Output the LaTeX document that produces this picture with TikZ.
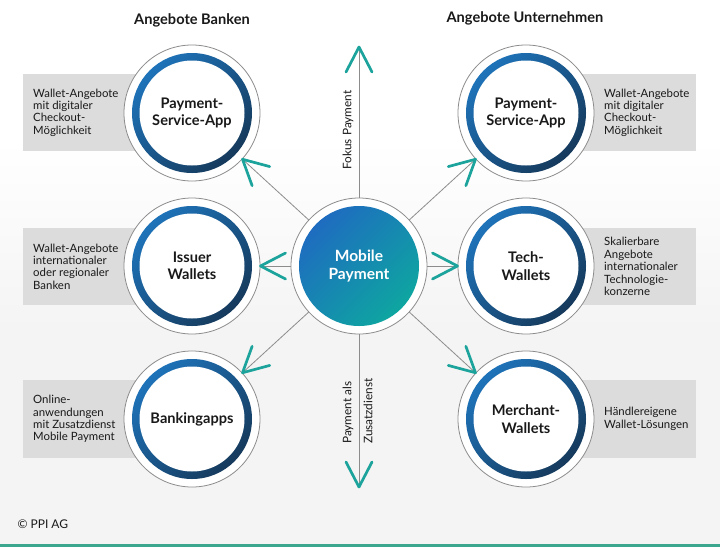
\documentclass[tikz,border=0pt]{standalone}
\usepackage{fontspec}
\setmainfont{Lato}
\usetikzlibrary{calc}
\definecolor{teal1}{RGB}{27,163,156}
\definecolor{lineg}{RGB}{140,140,140}
\definecolor{boxg}{RGB}{220,220,220}
\definecolor{ringA}{RGB}{30,115,185}
\definecolor{ringB}{RGB}{22,58,92}
\definecolor{cenA}{RGB}{30,108,192}
\definecolor{cenB}{RGB}{14,166,160}
\definecolor{bgg}{RGB}{244,244,244}
\definecolor{bottomline}{RGB}{60,166,143}
\definecolor{txt}{RGB}{25,25,25}
\newcommand\mychev[2]{\draw[chev] ($(#1)!25pt!(#2)!13pt!90:(#1)$) -- (#1) -- ($(#1)!25pt!(#2)!13pt!-90:(#1)$);}
\begin{document}
\begin{tikzpicture}[x=1pt,y=-1pt,
 outer/.style={circle,draw=lineg,line width=0.8pt,fill=white,minimum size=136pt,inner sep=0pt},
 lbl/.style={font=\bfseries\fontsize{14.6}{17.5}\selectfont,align=center,text=txt},
 desc/.style={font=\fontsize{11.4}{12.4}\selectfont,align=left,anchor=west,inner sep=0pt,text=txt},
 box/.style={fill=boxg},
 conn/.style={draw=lineg,line width=0.8pt},
 chev/.style={draw=teal1,line width=2.7pt,line cap=round,line join=round},
 side/.style={font=\fontsize{11.8}{13}\selectfont,rotate=90,inner sep=0pt,text=txt},
 head/.style={font=\bfseries\fontsize{14.6}{16}\selectfont,text=txt}
]
\useasboundingbox (0,0) rectangle (720,547);
\fill[white] (0,0) rectangle (720,547);
\shade[top color=white,bottom color=bgg] (0,140) rectangle (720,330);
\fill[bgg] (0,330) rectangle (720,547);
\draw[bottomline,line width=2.5pt] (0,545.5) -- (720,545.5);

% boxes
\fill[box] (23,74) rectangle (192,151);
\fill[box] (23,228) rectangle (192,305);
\fill[box] (23,380) rectangle (192,458);
\fill[box] (526,74) rectangle (696,151);
\fill[box] (526,228) rectangle (696,305);
\fill[box] (526,380) rectangle (696,458);

% circles
\node[outer] (L1) at (192,113) {};
\node[outer] (L2) at (192,266) {};
\node[outer] (L3) at (192,419) {};
\node[outer] (R1) at (526,113) {};
\node[outer] (R2) at (526,266) {};
\node[outer] (R3) at (526,419) {};
\node[outer] (C) at (359,266) {};
\foreach \n in {L1,L2,L3,R1,R2,R3}{
  \shade[top color=ringA,bottom color=ringB,shading angle=45] (\n.center) circle[radius=60pt];
  \fill[white] (\n.center) circle[radius=52.5pt];
}
\shade[top color=cenA,bottom color=cenB,shading angle=45] (C.center) circle[radius=60pt];

\node[lbl] (tL1) at (L1.center) {Payment-\\Service-App};
\node[lbl] (tL2) at (L2.center) {Issuer\\Wallets};
\node[lbl] (tL3) at (L3.center) {Bankingapps};
\node[lbl] (tR1) at (R1.center) {Payment-\\Service-App};
\node[lbl] (tR2) at (R2.center) {Tech-\\Wallets};
\node[lbl] (tR3) at (R3.center) {Merchant-\\Wallets};
\node[lbl,text=white,font=\bfseries\fontsize{15.5}{18}\selectfont] (tC) at (C.center) {Mobile\\Payment};

% descriptions
\node[desc] (dL1) at (33,112.5) {Wallet-Angebote\\mit digitaler\\Checkout-\\Möglichkeit};
\node[desc] (dL2) at (33,266.5) {Wallet-Angebote\\internationaler\\oder regionaler\\Banken};
\node[desc] (dL3) at (33,419) {Online-\\anwendungen\\mit Zusatzdienst\\Mobile Payment};
\node[desc] (dR1) at (604,112.5) {Wallet-Angebote\\mit digitaler\\Checkout-\\Möglichkeit};
\node[desc] (dR2) at (604,266.5) {Skalierbare\\Angebote\\internationaler\\Technologie-\\konzerne};
\node[desc] (dR3) at (604,419) {Händlereigene\\Wallet-Lösungen};

% headings
\node[head] (h1) at (192,20) {Angebote Banken};
\node[head] (h2) at (525,18) {Angebote Unternehmen};
\node[anchor=west,font=\fontsize{12}{14}\selectfont,text=txt] (cp) at (14,524) {© PPI AG};

% connectors
\coordinate (upT) at (359,47);
\coordinate (dnT) at (359,487);
\draw[conn] (C) -- (upT);
\draw[conn] (C) -- (dnT);
\foreach \n in {L1,L2,L3,R1,R2,R3}{
  \draw[conn] (C) -- (\n);
}
\coordinate (aL1) at ($(L1.center)!68.5pt!(C.center)$);
\coordinate (aL2) at ($(L2.center)!68.5pt!(C.center)$);
\coordinate (aL3) at ($(L3.center)!68.5pt!(C.center)$);
\coordinate (aR1) at ($(R1.center)!68.5pt!(C.center)$);
\coordinate (aR2) at ($(R2.center)!68.5pt!(C.center)$);
\coordinate (aR3) at ($(R3.center)!68.5pt!(C.center)$);
\mychev{upT}{C.center}
\mychev{dnT}{C.center}
\mychev{aL1}{C.center}
\mychev{aL2}{C.center}
\mychev{aL3}{C.center}
\mychev{aR1}{C.center}
\mychev{aR2}{C.center}
\mychev{aR3}{C.center}

% side labels
\node[side,anchor=center] (fp) at (348,130) {Fokus Payment};
\node[side,anchor=west] (pa) at (348,444) {Payment als};
\node[side,anchor=west] (zd) at (368,444) {Zusatzdienst};
\end{tikzpicture}
\end{document}
